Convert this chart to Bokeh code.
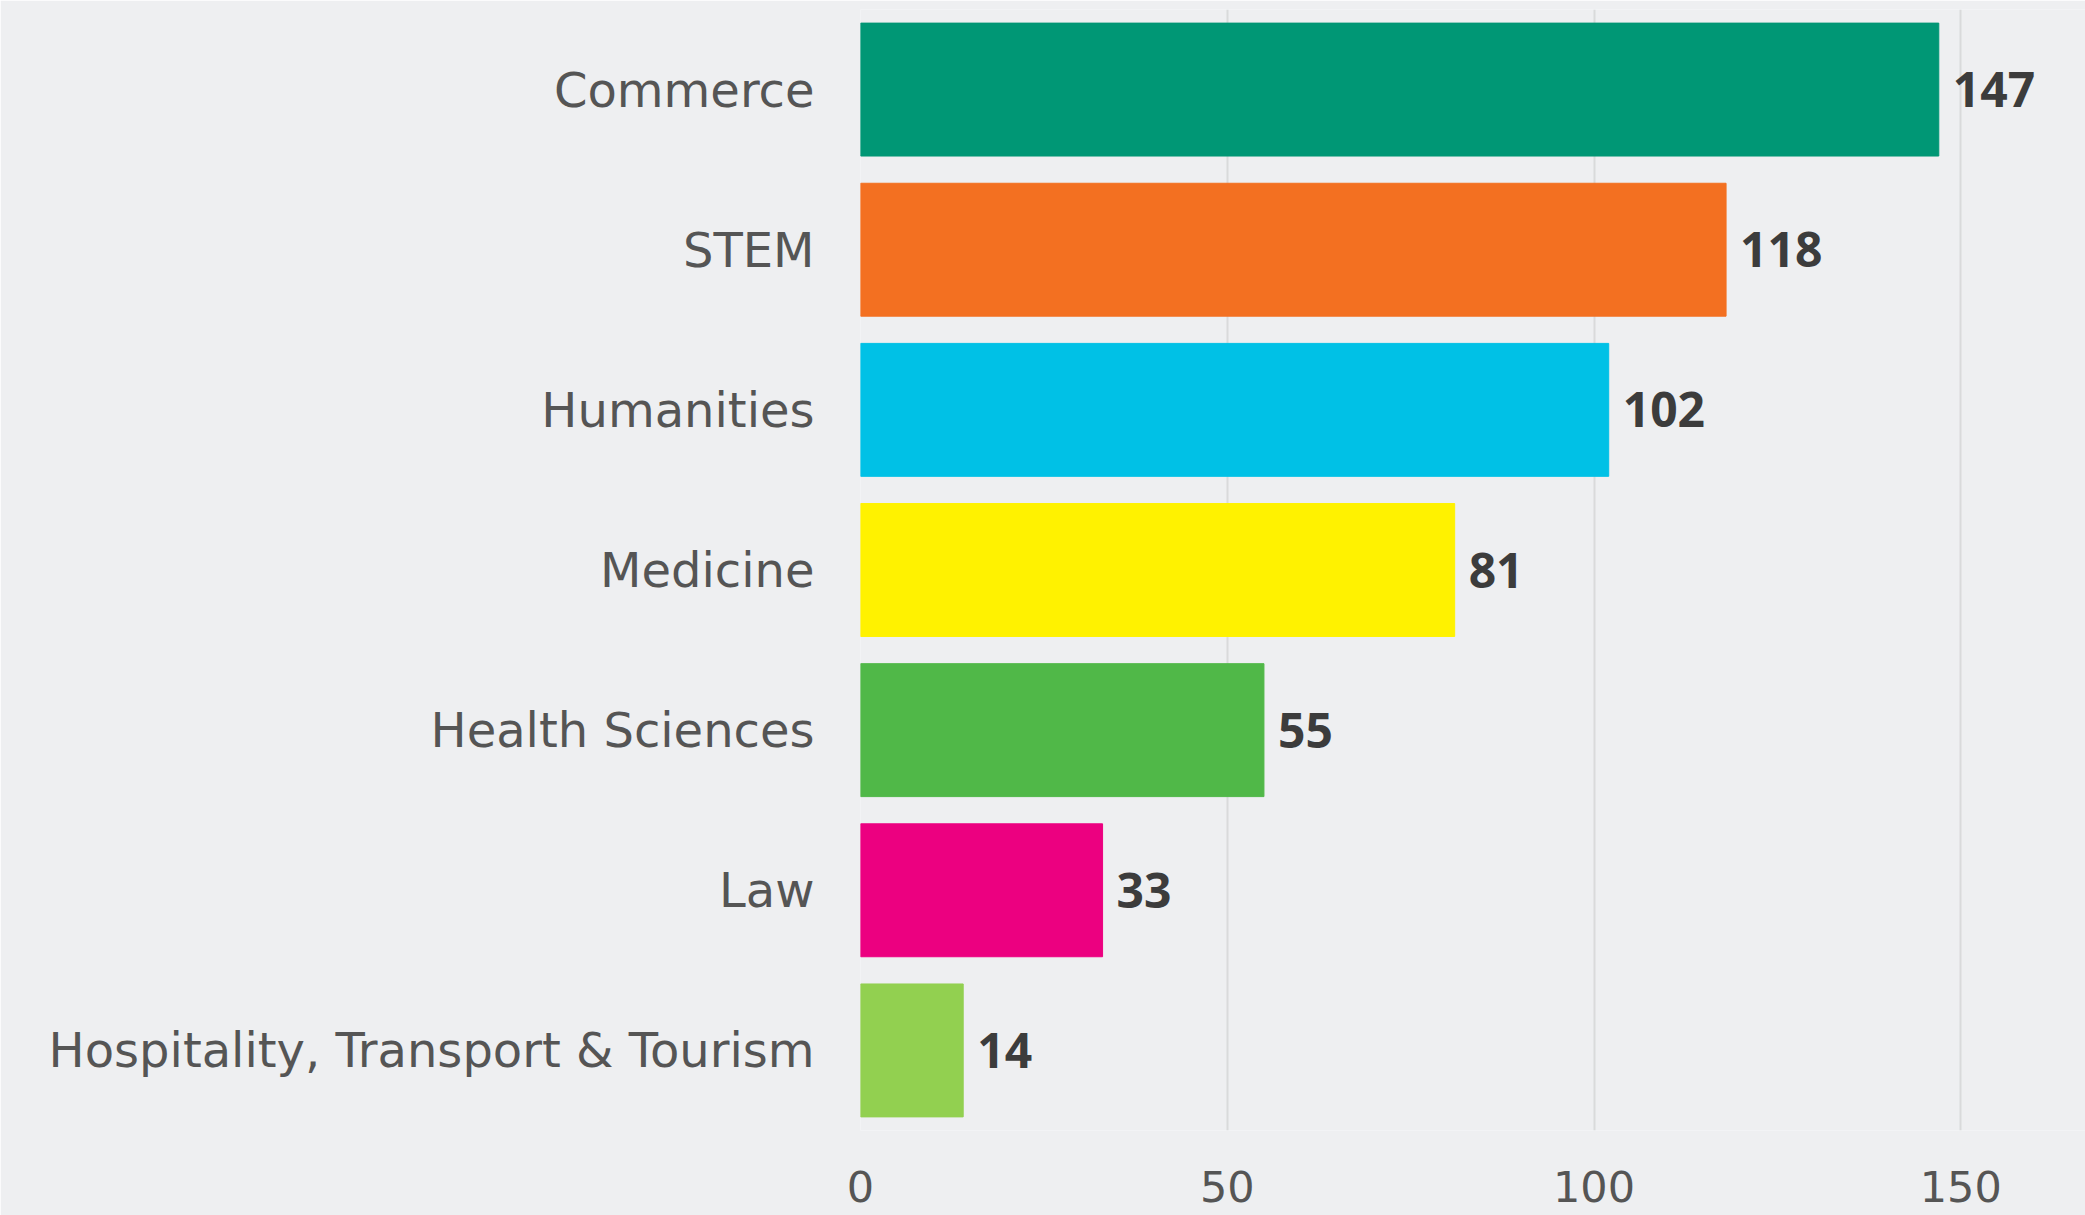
from bokeh.plotting import figure
from bokeh.models import ColumnDataSource, FactorRange, Range1d, FixedTicker
from bokeh.core.properties import value
from bokeh.embed import file_html
from bokeh.resources import INLINE

categories = ["Commerce", "STEM", "Humanities", "Medicine", "Health Sciences", "Law",
              "Hospitality, Transport & Tourism"]
counts = [147, 118, 102, 81, 55, 33, 14]
colors = ["#009775", "#f37021", "#00c1e6", "#fff200", "#50b848", "#ec0080", "#92d050"]
x_ticks = [0, 50, 100, 150]

src = ColumnDataSource(dict(cat=categories, val=counts, col=colors,
                            lab=[str(v) for v in counts]))

p = figure(width=2085, height=1215, output_backend="svg", toolbar_location=None,
           y_range=FactorRange(*reversed(categories), range_padding=0),
           x_range=Range1d(0, 167),
           min_border_left=860, min_border_right=0, min_border_top=9, min_border_bottom=85)

p.background_fill_color = "#eeeff1"
p.border_fill_color = "#eeeff1"
p.outline_line_color = None

p.hbar(y="cat", right="val", left=0, height=0.83, color="col", source=src)
p.text(x="val", y="cat", text="lab", source=src, x_offset=14,
       text_baseline="middle", text_align="left",
       text_font=value("Open Sans"), text_font_style="bold",
       text_font_size="48px", text_color="#3c3c3c")

p.xaxis.ticker = FixedTicker(ticks=x_ticks)
p.xaxis.axis_line_color = None
p.xaxis.major_tick_line_color = None
p.xaxis.major_tick_out = 0
p.xaxis.minor_tick_line_color = None
p.xaxis.major_label_text_font = "DejaVu Sans"
p.xaxis.major_label_text_font_size = "43px"
p.xaxis.major_label_text_color = "#555555"
p.xaxis.major_label_standoff = 40

p.yaxis.axis_line_color = None
p.yaxis.major_tick_line_color = None
p.yaxis.major_tick_out = 0
p.yaxis.minor_tick_line_color = None
p.yaxis.major_label_text_font = "DejaVu Sans"
p.yaxis.major_label_text_font_size = "48px"
p.yaxis.major_label_text_color = "#555555"
p.yaxis.major_label_standoff = 46

p.ygrid.grid_line_color = None
p.xgrid.grid_line_color = "#d9dadb"
p.xgrid.grid_line_width = 2

open("out.html", "w").write(file_html(p, INLINE))
